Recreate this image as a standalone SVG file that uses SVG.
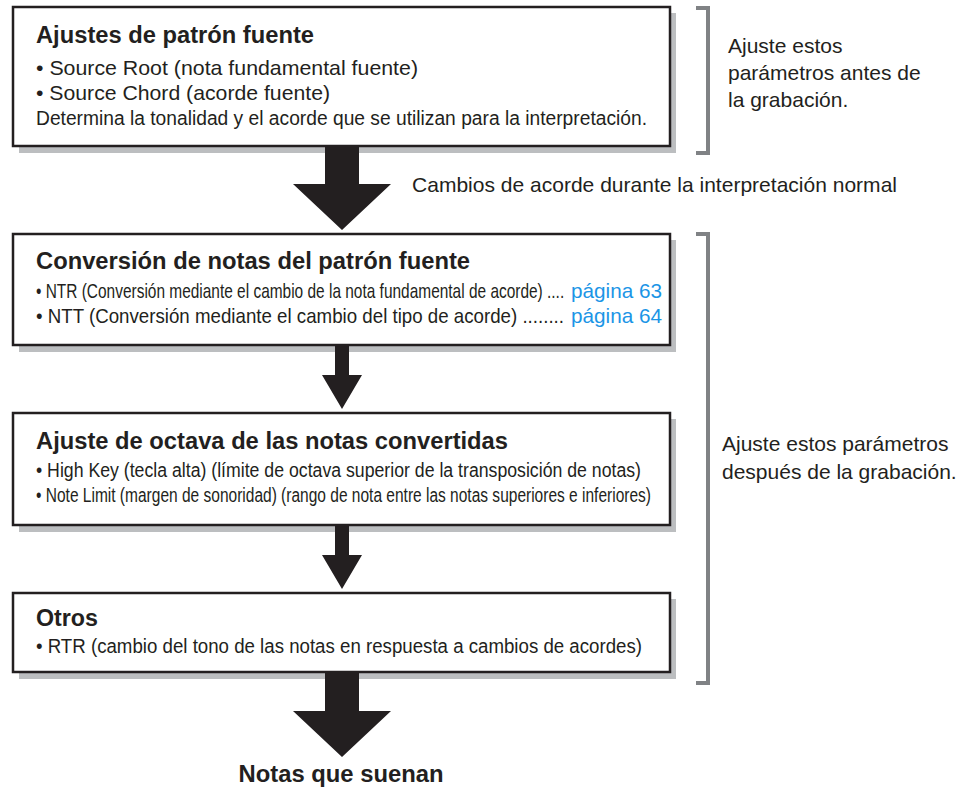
<svg xmlns="http://www.w3.org/2000/svg" width="968" height="787" viewBox="0 0 968 787">
<style>
  text { font-family: "Liberation Sans", Arial, Helvetica, sans-serif; fill: #231f20; }
  .title { font-size: 23px; font-weight: bold; }
  .body { font-size: 21px; }
  .small { font-size: 19.5px; }
  .cond { font-size: 20px; }
  .side { font-size: 21px; }
  .link { fill: #1b95e6; font-size: 21px; }
  .box { fill: #ffffff; stroke: #231f20; stroke-width: 2.5; }
  .shadow { fill: #bcbec0; }
  .arrow { fill: #231f20; }
  .bracket { fill: none; stroke: #808285; stroke-width: 4; }
</style>
<rect width="968" height="787" fill="#ffffff"/>

<g id="node-ajustes-patron">
  <rect class="shadow" x="19" y="13" width="657" height="140"/>
  <rect class="box" x="13" y="7" width="657" height="139"/>
  <text class="title" x="36" y="43" textLength="278" lengthAdjust="spacingAndGlyphs">Ajustes de patrón fuente</text>
  <text class="body" x="36" y="75" textLength="382" lengthAdjust="spacingAndGlyphs">• Source Root (nota fundamental fuente)</text>
  <text class="body" x="36" y="100" textLength="294" lengthAdjust="spacingAndGlyphs">• Source Chord (acorde fuente)</text>
  <text class="small" x="36" y="125" textLength="611" lengthAdjust="spacingAndGlyphs">Determina la tonalidad y el acorde que se utilizan para la interpretación.</text>
</g>

<g id="node-conversion">
  <rect class="shadow" x="19" y="240" width="657" height="112"/>
  <rect class="box" x="13" y="234" width="657" height="111"/>
  <text class="title" x="36" y="269" textLength="434" lengthAdjust="spacingAndGlyphs">Conversión de notas del patrón fuente</text>
  <text class="cond" transform="matrix(0.76 0 0 1 36 298)" x="0" y="0" textLength="695" lengthAdjust="spacingAndGlyphs">• NTR (Conversión mediante el cambio de la nota fundamental de acorde) ....</text>
  <text class="link" x="571" y="298" textLength="91" lengthAdjust="spacingAndGlyphs">página 63</text>
  <text class="cond" transform="matrix(0.88 0 0 1 36 323)" x="0" y="0" textLength="600" lengthAdjust="spacingAndGlyphs">• NTT (Conversión mediante el cambio del tipo de acorde) ........</text>
  <text class="link" x="571" y="323" textLength="91" lengthAdjust="spacingAndGlyphs">página 64</text>
</g>

<g id="node-octava">
  <rect class="shadow" x="19" y="419" width="657" height="113"/>
  <rect class="box" x="13" y="413" width="657" height="112"/>
  <text class="title" x="36" y="449" textLength="472" lengthAdjust="spacingAndGlyphs">Ajuste de octava de las notas convertidas</text>
  <text class="cond" x="36" y="477" textLength="605" lengthAdjust="spacingAndGlyphs">• High Key (tecla alta) (límite de octava superior de la transposición de notas)</text>
  <text class="cond" x="36" y="502" textLength="615" lengthAdjust="spacingAndGlyphs">• Note Limit (margen de sonoridad) (rango de nota entre las notas superiores e inferiores)</text>
</g>

<g id="node-otros">
  <rect class="shadow" x="19" y="599" width="657" height="80"/>
  <rect class="box" x="13" y="593" width="657" height="79"/>
  <text class="title" x="36" y="626" textLength="62" lengthAdjust="spacingAndGlyphs">Otros</text>
  <text class="cond" x="36" y="653" textLength="606" lengthAdjust="spacingAndGlyphs">• RTR (cambio del tono de las notas en respuesta a cambios de acordes)</text>
</g>

<g id="node-notas-suenan">
  <text class="title" x="341" y="782" text-anchor="middle" textLength="205" lengthAdjust="spacingAndGlyphs">Notas que suenan</text>
</g>

<g id="label-cambios">
  <text class="side" x="412" y="192" textLength="485" lengthAdjust="spacingAndGlyphs">Cambios de acorde durante la interpretación normal</text>
</g>

<g id="bracket-antes">
  <path class="bracket" d="M696,8 H708 V153 H696"/>
  <text class="side" x="728" y="53">Ajuste estos</text>
  <text class="side" x="728" y="80">parámetros antes de</text>
  <text class="side" x="728" y="107">la grabación.</text>
</g>

<g id="bracket-despues">
  <path class="bracket" d="M696,234 H708 V683 H696"/>
  <text class="side" x="722" y="451">Ajuste estos parámetros</text>
  <text class="side" x="722" y="479">después de la grabación.</text>
</g>

<g id="connectors">
  <polygon class="arrow" points="325,145 359,145 359,184 391,184 342,230 293,184 325,184"/>
  <polygon class="arrow" points="335,345 349,345 349,375 362,375 342,409 322,375 335,375"/>
  <polygon class="arrow" points="335,525 349,525 349,555 362,555 342,589 322,555 335,555"/>
  <polygon class="arrow" points="325,671 359,671 359,711 391,711 342,757 293,711 325,711"/>
</g>
</svg>
